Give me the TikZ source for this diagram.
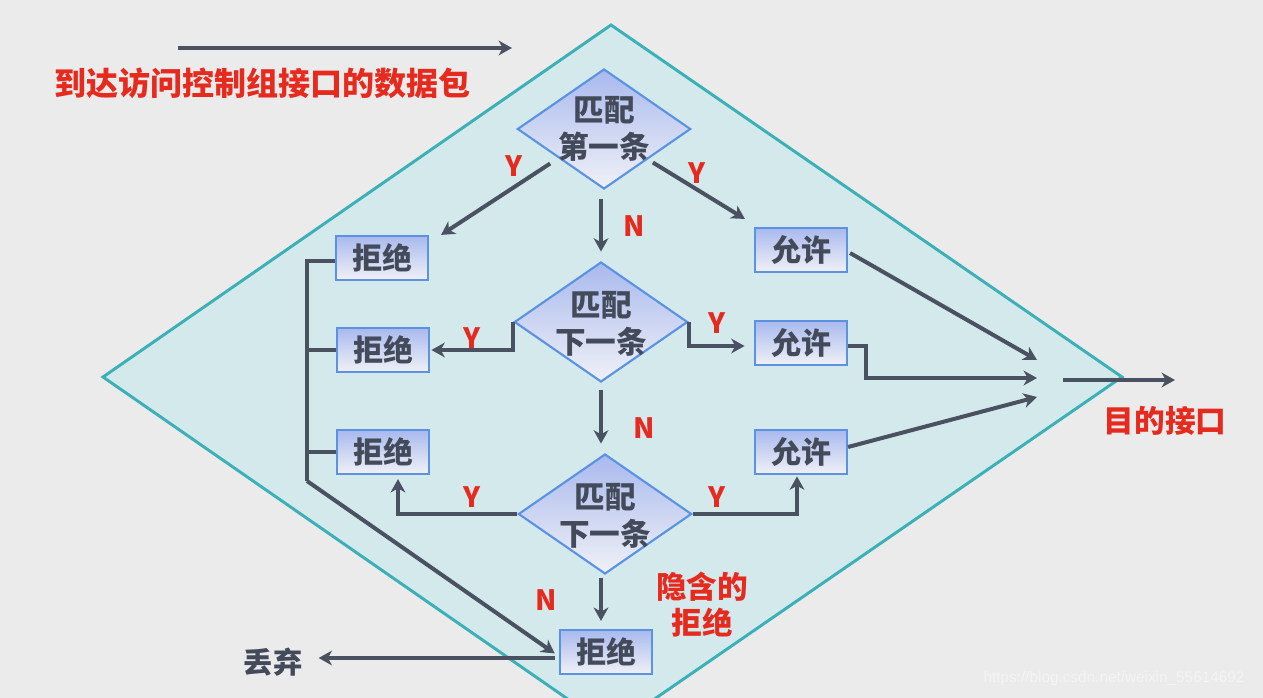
\documentclass[tikz,border=0pt]{standalone}
\usepackage{fontspec}
\newfontfamily\cjk{Noto Sans CJK SC}
\setsansfont{Liberation Sans}
\usetikzlibrary{arrows.meta,shapes.geometric}
\definecolor{bgc}{HTML}{EBEBEB}
\definecolor{cyanfill}{HTML}{D4E9EB}
\definecolor{tealc}{HTML}{3BB0B6}
\definecolor{arrowc}{HTML}{4A5262}
\definecolor{txtc}{HTML}{434B5A}
\definecolor{redc}{HTML}{E62A1E}
\definecolor{boxb}{HTML}{5B93E2}
\definecolor{boxt}{HTML}{A9B9EE}
\definecolor{boxbot}{HTML}{F0F1F6}
\definecolor{wmc}{HTML}{F4F4F4}
\tikzset{
  conn/.style={draw=arrowc, line width=3pt, -{Stealth[length=10pt,width=11pt,inset=3pt]}},
  plainline/.style={draw=arrowc, line width=3pt},
  boxnode/.style={rectangle, draw=boxb, line width=1.6pt, top color=boxt, bottom color=boxbot,
    minimum width=69pt, minimum height=33pt, inner sep=0pt, text=txtc,
    font=\cjk\bfseries\fontsize{22.5}{26}\selectfont},
  dianode/.style={diamond, draw=boxb, line width=1.6pt, top color=boxt, bottom color=boxbot,
    minimum width=130pt, minimum height=90pt, inner sep=0pt},
  diatext/.style={text=txtc, align=center, inner sep=0pt,
    font=\cjk\bfseries\fontsize{23}{27.5}\selectfont},
  yn/.style={text=redc, inner sep=0pt, font=\cjk\bfseries\fontsize{21}{24}\selectfont},
  redtext/.style={text=redc, inner sep=0pt, align=center, font=\cjk\bfseries\fontsize{23}{27}\selectfont},
  darktext/.style={text=txtc, inner sep=0pt, font=\cjk\bfseries\fontsize{22}{26}\selectfont},
}
\begin{document}
\begin{tikzpicture}[x=0.75pt,y=-0.75pt]
\useasboundingbox (0,0) rectangle (1263,698);
\clip (0,0) rectangle (1263,698);
\fill[bgc] (0,0) rectangle (1263,698);
% big diamond
\filldraw[fill=cyanfill, draw=tealc, line width=2.2pt, line join=miter]
  (611,25) -- (1122,377) -- (611,729) -- (103,377) -- cycle;

% title
\coordinate (ts) at (178,48);
\coordinate (te) at (512,48);
\draw[conn] (ts) -- (te);
\node[redtext, font=\cjk\bfseries\fontsize{24}{28}\selectfont] (title) at (262,83) {到达访问控制组接口的数据包};

% decisions
\node[dianode] (d1) at (604,129) {};
\node[diatext] (t1) at (604,129) {匹配\\第一条};
\node[dianode] (d2) at (601,322) {};
\node[diatext] (t2) at (601,324) {匹配\\下一条};
\node[dianode] (d3) at (605,514) {};
\node[diatext] (t3) at (605,516) {匹配\\下一条};

% boxes
\node[boxnode] (r1) at (382,258) {拒绝};
\node[boxnode] (a1) at (801,250) {允许};
\node[boxnode] (r2) at (383,350) {拒绝};
\node[boxnode] (a2) at (801,343) {允许};
\node[boxnode] (r3) at (383,452) {拒绝};
\node[boxnode] (a3) at (801,452) {允许};
\node[boxnode] (r4) at (606,652) {拒绝};

% first decision
\draw[conn] ([shift={(-10,4)}]d1.south west) -- ([shift={(12,0)}]r1.north east);
\node[yn] (y1) at (514,166) {Y};
\draw[conn] ([shift={(5,3)}]d1.south east) -- ([shift={(-9,-8)}]a1.north west);
\node[yn] (y2) at (697,173) {Y};
\draw[conn, shorten <=7pt, shorten >=7pt] (d1.south -| d2.north) -- (d2.north);
\node[yn] (n1) at (634,226) {N};

% second decision
\draw[conn, shorten >=1pt] (d2.west) |- (r2.east);
\node[yn] (y3) at (472,338) {Y};
\draw[conn, shorten >=7pt] (d2.east) |- ([shift={(0,3)}]a2.west);
\node[yn] (y4) at (717,323) {Y};
\draw[conn, shorten <=5pt, shorten >=7pt] (d2.south) -- (d2.south |- d3.north);
\node[yn] (n2) at (644,428) {N};

% third decision
\draw[conn, shorten >=3pt] (d3.west) -| ([shift={(15,0)}]r3.south);
\node[yn] (y5) at (472,497) {Y};
\draw[conn, shorten >=1pt] (d3.east) -| ([shift={(-4,0)}]a3.south);
\node[yn] (y6) at (717,497) {Y};
\draw[conn, shorten <=2pt, shorten >=6pt] (d3.south -| d2.south) -- (d2.south |- r4.north);
\node[yn] (n3) at (546,600) {N};
\node[redtext] (implicit) at (702,605) {隐含的\\拒绝};

% left bus
\coordinate (bt) at (307,261);
\coordinate (bb) at (307,481);
\draw[plainline] (r1.west |- bt) -- (bt) -- (bb);
\draw[plainline] (r2.west) -- (r2.west -| bt);
\draw[plainline] (r3.west) -- (r3.west -| bt);
\draw[conn, shorten >=2pt] (bb) -- ([shift={(-2,3)}]r4.west);

% discard
\node[darktext] (discard) at (273,662) {丢弃};
\coordinate (ds) at ([shift={(-4,6)}]r4.west);
\draw[conn, shorten >=12pt] (ds) -- (discard.east |- ds);

% right side
\coordinate (m1) at (1037,360);
\coordinate (m2) at (1037,378);
\coordinate (m3) at (1037,397);
\draw[conn] ([shift={(2,3)}]a1.east) -- (m1);
\draw[conn] ([shift={(0,3)}]a2.east) -- ++(18,0) |- (m2);
\draw[conn] ([shift={(0,-5)}]a3.east) -- (m3);
\coordinate (o1) at (1063,380);
\coordinate (o2) at (1175,380);
\draw[conn] (o1) -- (o2);
\node[redtext] (dest) at (1165,421) {目的接口};

% watermark
\node[text=wmc, inner sep=0pt, font=\sffamily\fontsize{11.5}{13}\selectfont] (wm) at (1114,679) {https://blog.csdn.net/weixin\_55614692};
\end{tikzpicture}
\end{document}
